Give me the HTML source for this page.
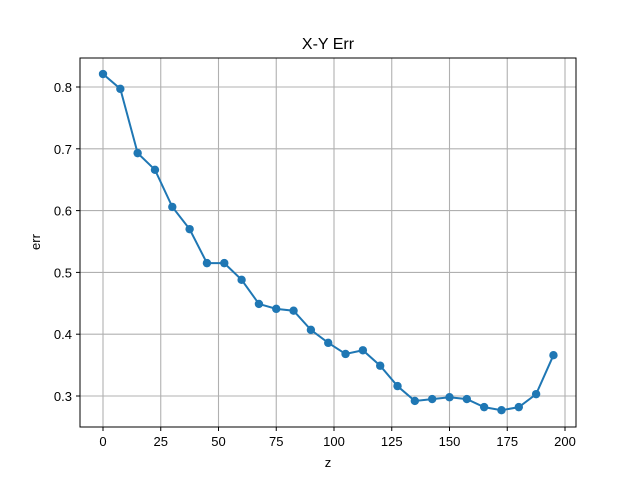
<!DOCTYPE html>
<html><head><meta charset="utf-8"><style>
body{margin:0;background:#fff;font-family:"Liberation Sans","DejaVu Sans",sans-serif}
</style></head><body>
<svg id="chart" width="640" height="480" xmlns="http://www.w3.org/2000/svg">
<rect width="640" height="480" fill="#fff"/>
<text x="328" y="49" text-anchor="middle" font-size="16">X-Y Err</text>
<g id="grid"></g><g id="ticks"></g><g id="series"></g>
<rect x="80" y="58" width="496" height="369" fill="none" stroke="#000" stroke-width="1"/>
<text x="328" y="467" text-anchor="middle" font-size="13">z</text>
<text transform="translate(40,242) rotate(-90)" text-anchor="middle" font-size="13">err</text>
</svg>
<script>
const xValues=[0,7.5,15,22.5,30,37.5,45,52.5,60,67.5,75,82.5,90,97.5,105,112.5,120,127.5,135,142.5,150,157.5,165,172.5,180,187.5,195];
const errValues=[0.821,0.797,0.693,0.666,0.606,0.570,0.515,0.515,0.488,0.449,0.441,0.438,0.407,0.386,0.368,0.374,0.349,0.316,0.292,0.295,0.298,0.295,0.282,0.277,0.282,0.303,0.366];
const xTicks=[0,25,50,75,100,125,150,175,200];
const yTicks=[0.3,0.4,0.5,0.6,0.7,0.8];
const NS="http://www.w3.org/2000/svg";
function sx(v){return 103+(v-0)*(565-103)/200;}
function sy(v){return 87+(0.8-v)*618;}
function mk(t,a,p){const e=document.createElementNS(NS,t);for(const k in a)e.setAttribute(k,a[k]);p.appendChild(e);return e;}
const grid=document.getElementById('grid'),ticks=document.getElementById('ticks'),ser=document.getElementById('series');
xTicks.forEach(t=>{const x=sx(t);
const g=mk('line',{x1:x,x2:x,y1:58,y2:427,stroke:'#b0b0b0','stroke-width':1.1},grid);


mk('line',{x1:x,x2:x,y1:427,y2:431,stroke:'#000'},ticks);
const l=mk('text',{x:x,y:446,'text-anchor':'middle','font-size':13},ticks);l.textContent=t;

});
yTicks.forEach(t=>{const y=sy(t);
const g=mk('line',{x1:80,x2:576,y1:y,y2:y,stroke:'#b0b0b0','stroke-width':1.1},grid);


mk('line',{x1:76,x2:80,y1:y,y2:y,stroke:'#000'},ticks);
const l=mk('text',{x:72,y:y+5,'text-anchor':'end','font-size':13},ticks);l.textContent=t.toFixed(1);

});
const pts=xValues.map((x,i)=>sx(x)+','+sy(errValues[i])).join(' ');
const line=mk('polyline',{points:pts,fill:'none',stroke:'#1f77b4','stroke-width':2},ser);


xValues.forEach((x,i)=>{const c=mk('circle',{cx:sx(x),cy:sy(errValues[i]),r:4.2,fill:'#1f77b4'},ser);

});
</script>
</body></html>
